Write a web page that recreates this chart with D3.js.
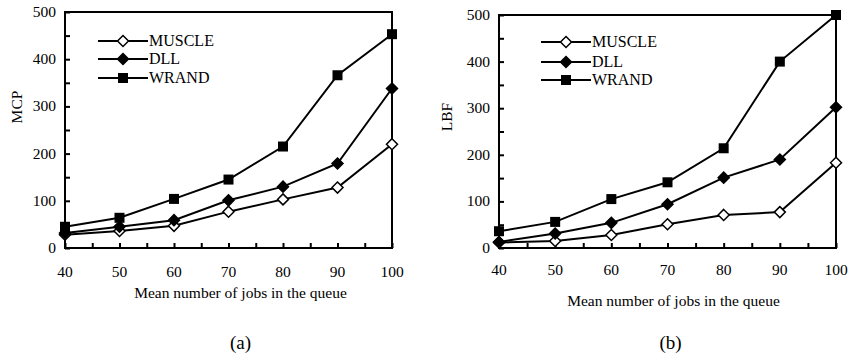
<!DOCTYPE html>
<html>
<head>
<meta charset="utf-8">
<script src="https://cdn.jsdelivr.net/npm/d3@7"></script>
<style>
  body { margin: 0; background: #fff; }
</style>
</head>
<body>
<div id="chart"></div>
<script>
const jobs = [40, 50, 60, 70, 80, 90, 100];
const seriesNames = ["MUSCLE", "DLL", "WRAND"];

// (a) MCP
const mcpMuscle = [28, 36, 47, 77, 103, 128, 220];
const mcpDll = [32, 45, 59, 101, 130, 179, 338];
const mcpWrand = [45, 64, 104, 145, 215, 366, 453];

// (b) LBF
const lbfMuscle = [12, 15, 28, 51, 71, 77, 183];
const lbfDll = [13, 31, 54, 94, 151, 190, 302];
const lbfWrand = [36, 56, 105, 141, 214, 400, 500];

const yTicks = [0, 100, 200, 300, 400, 500];

const serif = "'Liberation Serif', 'Times New Roman', 'DejaVu Serif', serif";

const svg = d3.select("#chart").append("svg")
  .attr("width", 849)
  .attr("height", 359)
  .attr("font-family", serif);

function drawMarker(g, name, x, y) {
  if (name === "WRAND") {
    g.append("rect")
      .attr("x", x - 5).attr("y", y - 5)
      .attr("width", 10).attr("height", 10)
      .attr("fill", "#000");
  } else {
    const d = 5.5;
    g.append("path")
      .attr("d", `M${x},${y - d}L${x + d},${y}L${x},${y + d}L${x - d},${y}Z`)
      .attr("fill", name === "MUSCLE" ? "#fff" : "#000")
      .attr("stroke", "#000")
      .attr("stroke-width", 1.5);
  }
}

const panels = [
  { label: "MCP", tag: "(a)", left: 65, right: 392, top: 12, bottom: 248,
    series: [mcpMuscle, mcpDll, mcpWrand],
    xLabY: 277, xTitleY: 298, titleDx: 12, tagY: 349, tagDx: 12,
    yTitleX: 22, yTitleY: 107, legX: 98, legY: [41, 59, 78] },
  { label: "LBF", tag: "(b)", left: 499, right: 836, top: 15, bottom: 248,
    series: [lbfMuscle, lbfDll, lbfWrand],
    xLabY: 275, xTitleY: 306, titleDx: 6, tagY: 349, tagDx: 3,
    yTitleX: 452, yTitleY: 117, legX: 541, legY: [42, 62, 80] }
];

panels.forEach(p => {
  const g = svg.append("g");
  const x = d3.scaleLinear().domain([40, 100]).range([p.left, p.right]);
  const y = d3.scaleLinear().domain([0, 500]).range([p.bottom, p.top]);

  // frame
  g.append("rect")
    .attr("x", p.left).attr("y", p.top)
    .attr("width", p.right - p.left).attr("height", p.bottom - p.top)
    .attr("fill", "none").attr("stroke", "#000").attr("stroke-width", 2);

  // inward ticks
  const xAxis = g.append("g")
    .attr("transform", `translate(0,${p.bottom})`)
    .call(d3.axisTop(x).tickValues(d3.range(40, 101, 5)).tickSize(5).tickFormat(""));
  xAxis.select(".domain").remove();
  xAxis.selectAll("line").attr("stroke-width", 2);

  const yAxis = g.append("g")
    .attr("transform", `translate(${p.left},0)`)
    .call(d3.axisRight(y).tickValues(d3.range(0, 501, 50)).tickSize(5).tickFormat(""));
  yAxis.select(".domain").remove();
  yAxis.selectAll("line").attr("stroke-width", 2);

  // tick labels
  g.selectAll(".xl").data(jobs).enter().append("text")
    .attr("x", d => x(d)).attr("y", p.xLabY)
    .attr("text-anchor", "middle").attr("font-size", 15.5)
    .attr("font-family", serif)
    .text(d => d);
  g.selectAll(".yl").data(yTicks).enter().append("text")
    .attr("x", p.left - 9).attr("y", d => y(d) + 5)
    .attr("text-anchor", "end").attr("font-size", 15.5)
    .attr("font-family", serif)
    .text(d => d);

  g.append("text")
    .attr("x", (p.left + p.right) / 2 + p.titleDx).attr("y", p.xTitleY)
    .attr("text-anchor", "middle").attr("font-size", 15.5)
    .attr("font-family", serif)
    .text("Mean number of jobs in the queue");

  g.append("text")
    .attr("transform", `translate(${p.yTitleX},${p.yTitleY}) rotate(-90)`)
    .attr("text-anchor", "middle").attr("font-size", 15.5)
    .attr("font-family", serif)
    .text(p.label);

  g.append("text")
    .attr("x", (p.left + p.right) / 2 + p.tagDx).attr("y", p.tagY)
    .attr("text-anchor", "middle").attr("font-size", 19)
    .attr("font-family", serif)
    .text(p.tag);

  const line = d3.line().x((d, i) => x(jobs[i])).y(d => y(d));

  p.series.forEach(vals => {
    g.append("path")
      .attr("d", line(vals))
      .attr("fill", "none").attr("stroke", "#000").attr("stroke-width", 2);
  });
  p.series.forEach((vals, si) => {
    vals.forEach((v, i) => drawMarker(g, seriesNames[si], x(jobs[i]), y(v)));
  });

  // legend
  seriesNames.forEach((name, i) => {
    const ly = p.legY[i];
    g.append("line")
      .attr("x1", p.legX).attr("x2", p.legX + 50)
      .attr("y1", ly).attr("y2", ly)
      .attr("stroke", "#000").attr("stroke-width", 2);
    drawMarker(g, name, p.legX + 25, ly);
    g.append("text")
      .attr("x", p.legX + 51).attr("y", ly + 5)
      .attr("font-size", 16)
      .attr("font-family", serif)
      .text(name);
  });
});
</script>
</body>
</html>
